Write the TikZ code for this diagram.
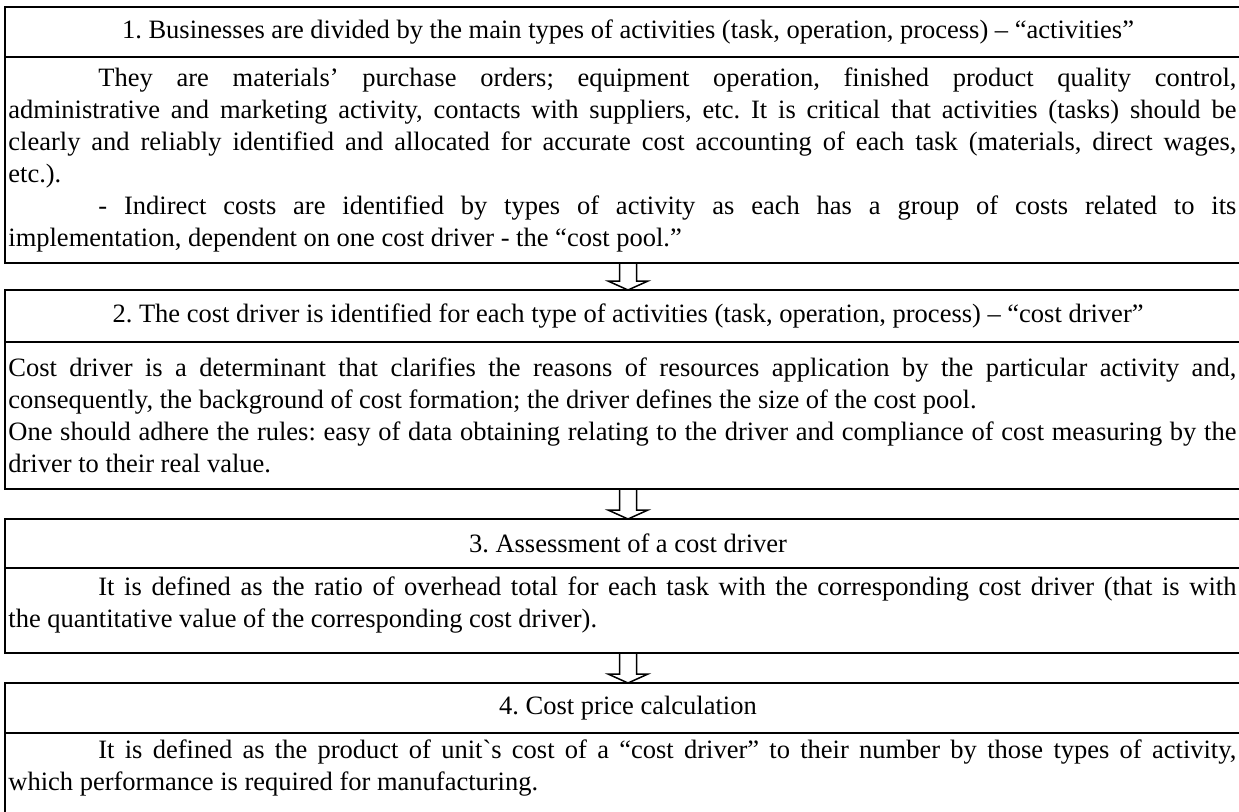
\documentclass[tikz,border=0pt]{standalone}
\usepackage{fontspec}
\setmainfont{Liberation Serif}
\usepackage{tikz}
\usetikzlibrary{calc,positioning}
\frenchspacing

\begin{document}
\begin{tikzpicture}[x=0.5pt,y=-0.5pt,
    frame/.style={draw,line width=0.9pt,outer sep=0,minimum width=623pt,inner sep=0},
    headtext/.style={font=\fontsize{13.25}{16}\selectfont,inner sep=0},
    bodytext/.style={font=\fontsize{13.25}{16}\selectfont,text width=614pt,align=justify,inner sep=0,anchor=west},
    hollow/.style={line width=0.75pt,line join=miter}]
        \useasboundingbox (0,0) rectangle (1239,811);
        % Frames of the four steps
        \node[frame,minimum height=25pt,anchor=north] (h1) at (628,7) {};
        \node[frame,minimum height=103pt,below=0pt of h1] (b1) {};
        \node[frame,minimum height=26pt,anchor=north] (h2) at (628,290) {};
        \node[frame,minimum height=73.5pt,below=0pt of h2] (b2) {};
        \node[frame,minimum height=24.5pt,anchor=north] (h3) at (628,519) {};
        \node[frame,minimum height=42.5pt,below=0pt of h3] (b3) {};
        \node[frame,minimum height=25pt,anchor=north] (h4) at (628,683) {};
        \node[frame,minimum height=42.5pt,below=0pt of h4] (b4) {};
        % Titles
        \node[headtext] (t1) at (h1) {1. Businesses are divided by the main types of activities (task, operation, process) – “activities”};
        \node[headtext] (t2) at (h2) {2. The cost driver is identified for each type of activities (task, operation, process) – “cost driver”};
        \node[headtext] (t3) at (h3) {3. Assessment of a cost driver};
        \node[headtext] (t4) at (h4) {4. Cost price calculation};
        % Texts
        \node[bodytext] (p1) at ($(b1.west)+(3,0)$) {\hspace*{45pt}They are materials’ purchase orders; equipment operation, finished product quality control,\linebreak administrative and marketing activity, contacts with suppliers, etc. It is critical that activities (tasks) should be\linebreak clearly and reliably identified and allocated for accurate cost accounting of each task (materials, direct wages,\linebreak etc.).\par
            \hspace*{45pt}- Indirect costs are identified by types of activity as each has a group of costs related to its\linebreak implementation, dependent on one cost driver - the “cost pool.”};
        \node[bodytext] (p2) at ($(b2.west)+(3,0)$) {Cost driver is a determinant that clarifies the reasons of resources application by the particular activity and,\linebreak consequently, the background of cost formation; the driver defines the size of the cost pool.\par
            One should adhere the rules: easy of data obtaining relating to the driver and compliance of cost measuring by the\linebreak driver to their real value.};
        \node[bodytext] (p3) at ($(b3.west)+(3,-5)$) {\hspace*{45pt}It is defined as the ratio of overhead total for each task with the corresponding cost driver (that is with\linebreak the quantitative value of the corresponding cost driver).};
        \node[bodytext] (p4) at ($(b4.west)+(3,-7)$) {\hspace*{45pt}It is defined as the product of unit\textasciigrave s cost of a “cost driver” to their number by those types of activity,\linebreak which performance is required for manufacturing.};
        % Hollow arrows between the steps
        \foreach \a/\b in {b1/h2,b2/h3,b3/h4}
            \draw[hollow] ($(\a.south)+(-8.5,0)$) -- ($(\b.north)+(-8.5,-9)$) -- ($(\b.north)+(-20,-9)$) -- (\b.north)
                -- ($(\b.north)+(20,-9)$) -- ($(\b.north)+(8.5,-9)$) -- ($(\a.south)+(8.5,0)$);
\end{tikzpicture}
\end{document}
